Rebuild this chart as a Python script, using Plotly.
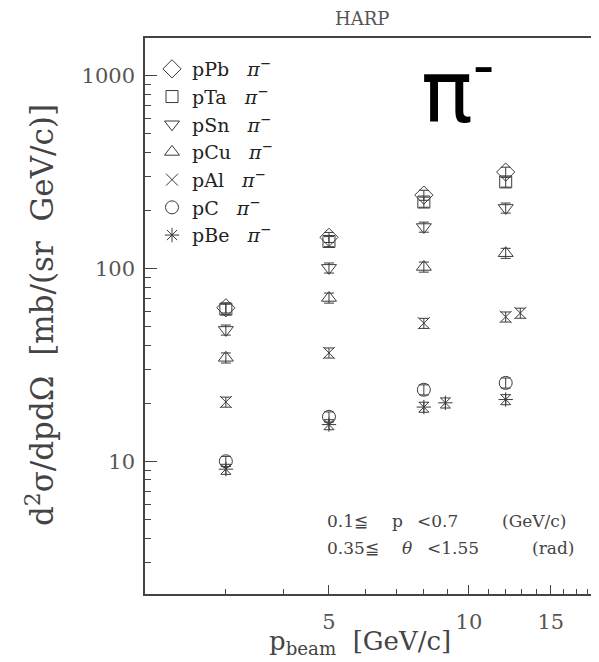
import plotly.graph_objects as go
import numpy as np

# ---- data ----
p_beam = [3, 5, 8, 12]
pPb = [62.5, 145, 240, 316]
pTa = [61.5, 138, 221, 281]
pSn = [48, 100.7, 164, 206]
pCu = [34.4, 70.3, 101.8, 120]
pAl_x = [3, 5, 8, 12, 12.9]
pAl = [20.3, 36.5, 52, 56.1, 58.7]
pC = [10.0, 17.0, 23.5, 25.5]
pBe_x = [3, 5, 8, 8.9, 12]
pBe = [9.1, 15.5, 19.1, 20.1, 20.9]

series = [
    ("pPb", p_beam, pPb, "diamond-open", 14),
    ("pTa", p_beam, pTa, "square-open", 12),
    ("pSn", p_beam, pSn, "triangle-down-open", 13),
    ("pCu", p_beam, pCu, "triangle-up-open", 13),
    ("pAl", pAl_x, pAl, "x-thin-open", 12),
    ("pC", p_beam, pC, "circle-open", 13),
    ("pBe", pBe_x, pBe, "asterisk-open", 12),
]

x_major = [5, 10, 15]
x_minor = [3, 4, 6, 7, 8, 9, 11, 12, 13, 14, 16, 17, 18, 19]
y_major = [10, 100, 1000]
y_minor = [3, 4, 5, 6, 7, 8, 9, 20, 30, 40, 50, 60, 70, 80, 90,
           200, 300, 400, 500, 600, 700, 800, 900]

SERIF = "DejaVu Serif"
GRAY = "#3a3a3a"
NB = "\u00a0"

# page offset of the figure div (body margin)
OFF = 8
PL, PR, PT, PB = 145, 599, 38, 594   # plot area in page pixels
PW, PH = PR - PL, PB - PT


def px(x):
    return (x - PL) / PW


def py(y):
    return 1 - (y - PT) / PH


fig = go.Figure()
for name, xs, ys, sym, sz in series:
    fig.add_trace(go.Scatter(
        x=xs, y=ys, mode="markers",
        name=f"{name}{NB}{NB}{NB}<i>π</i><sup>−</sup>",
        legendgroup=name,
        marker=dict(symbol=sym, size=sz, color=GRAY, line=dict(width=1, color=GRAY)),
        error_y=dict(type="percent", value=6, color=GRAY, thickness=1, width=5),
    ))

# minor ticks via overlay axes
fig.add_trace(go.Scatter(x=[3], y=[10], xaxis="x2", yaxis="y2", mode="markers",
                         marker=dict(opacity=0), showlegend=False, hoverinfo="skip"))

xr = [np.log10(2.01), np.log10(19.05)]
yr = [np.log10(2.05), np.log10(1567)]

fig.update_layout(
    width=599, height=662,
    margin=dict(l=PL - OFF, r=599 + OFF - PR, t=PT - OFF, b=662 + OFF - PB),
    paper_bgcolor="white", plot_bgcolor="white",
    font=dict(family=SERIF, color="#555555"),
    showlegend=True,
    legend=dict(x=px(152), y=py(50), xanchor="left", yanchor="top",
                bgcolor="rgba(0,0,0,0)", tracegroupgap=0, itemwidth=30,
                font=dict(family=SERIF, size=19, color="#222222")),
    xaxis=dict(type="log", range=xr, showline=True, linecolor="#444444", linewidth=1.5,
               mirror=True, ticks="inside", ticklen=9, tickcolor="#444444",
               tickvals=x_major, ticktext=[str(v) for v in x_major],
               tickfont=dict(family=SERIF, size=21, color="#555555"),
               ticklabelstandoff=8,
               showgrid=False, zeroline=False),
    yaxis=dict(type="log", range=yr, showline=True, linecolor="#444444", linewidth=1.5,
               ticks="inside", ticklen=12, tickcolor="#444444",
               tickvals=y_major, ticktext=[str(v) for v in y_major],
               tickfont=dict(family=SERIF, size=21, color="#555555"),
               ticklabelstandoff=4,
               showgrid=False, zeroline=False),
    xaxis2=dict(type="log", range=xr, overlaying="x", side="bottom", anchor="y",
                ticks="inside", ticklen=5, tickcolor="#444444", tickvals=x_minor,
                showticklabels=False, showgrid=False, zeroline=False, showline=False),
    yaxis2=dict(type="log", range=yr, overlaying="y", side="left", anchor="x",
                ticks="inside", ticklen=6, tickcolor="#444444", tickvals=y_minor,
                showticklabels=False, showgrid=False, zeroline=False, showline=False),
)


def text(t, x, y, size, color="#444444", fam=SERIF, xa="center", angle=0):
    fig.add_annotation(text=t, xref="paper", yref="paper", x=px(x), y=py(y),
                       xanchor=xa, yanchor="middle", showarrow=False, textangle=angle,
                       font=dict(family=fam, size=size, color=color))


text("HARP", 362, 18, 18, "#555555")
text("π<sup>-</sup>", 458, 86, 86, "black", "DejaVu Sans")

# selection cuts (pieces placed as in the reference)
text("0.1≦", 325, 521, 17, xa="left")
text("p", 390, 521, 17, xa="left")
text("<0.7", 415, 521, 17, xa="left")
text("(GeV/c)", 500, 521, 17, xa="left")
text("0.35≦", 325, 548, 17, xa="left")
text("<i>θ</i>", 400, 548, 17, xa="left")
text("<1.55", 425, 548, 17, xa="left")
text("(rad)", 530, 548, 17, xa="left")

# axis titles
text(f"p<sub>beam</sub>{NB}{NB}[GeV/c]", 360, 643, 26)
text(f"d<sup>2</sup>σ/dpdΩ{NB}{NB}[mb/(sr{NB}{NB}GeV/c)]", 40, 315, 31, angle=-90)

fig.write_html("out.html")
